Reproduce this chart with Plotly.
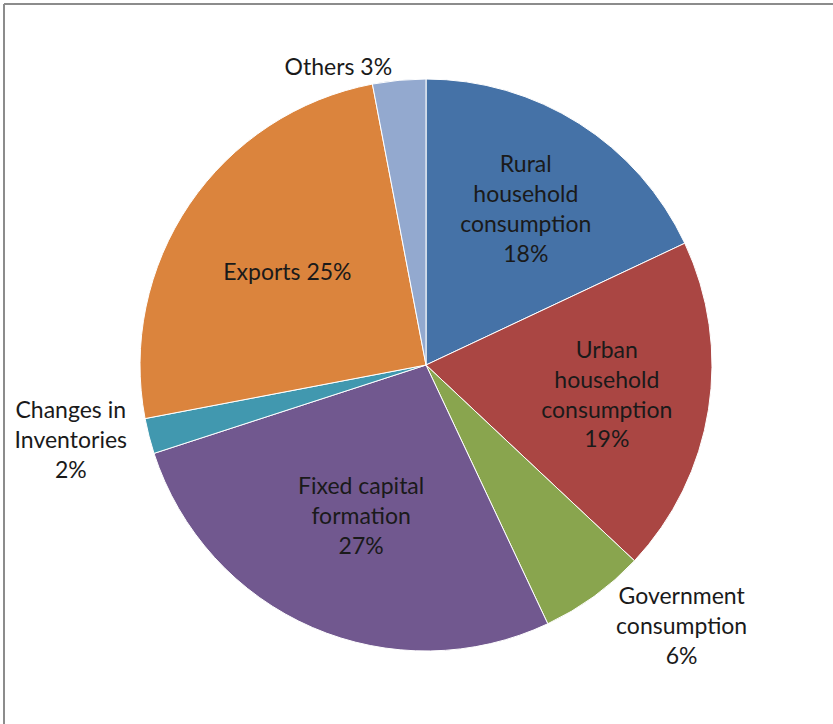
import plotly.graph_objects as go

# GDP expenditure components (share of total, %)
categories = [
    "Rural household consumption",
    "Urban household consumption",
    "Government consumption",
    "Fixed capital formation",
    "Changes in Inventories",
    "Exports",
    "Others",
]
shares = [18, 19, 6, 27, 2, 25, 3]
display_names = [
    "Rural<br>household<br>consumption",
    "Urban<br>household<br>consumption",
    "Government<br>consumption",
    "Fixed capital<br>formation",
    "Changes in<br>Inventories",
    "Exports",
    "Others",
]
label_templates = [
    "%{text}<br>%{value}%",
    "%{text}<br>%{value}%",
    "%{text}<br>%{value}%",
    "%{text}<br>%{value}%",
    "%{text}<br>%{value}%",
    "%{text} %{value}%",
    "%{text} %{value}%",
]
label_positions = ["inside", "inside", "outside", "inside", "outside", "inside", "outside"]
colors = ["#4572A7", "#AA4643", "#89A54E", "#71588F", "#4198AF", "#DB843D", "#93A9CF"]

W, H = 833, 724
cx, cy, r = 426, 365, 286

fig = go.Figure(
    go.Pie(
        labels=categories,
        values=shares,
        text=display_names,
        texttemplate=label_templates,
        textposition=label_positions,
        insidetextorientation="horizontal",
        sort=False,
        direction="clockwise",
        rotation=0,
        marker=dict(colors=colors, line=dict(color="white", width=1)),
        textfont=dict(family="Lato", size=23, color="#1a1a1a"),
        hoverinfo="label+percent",
        showlegend=False,
        domain=dict(
            x=[(cx - r) / W, (cx + r) / W],
            y=[1 - (cy + r) / H, 1 - (cy - r) / H],
        ),
    )
)

# Chart-area frame (top and left edges)
frame = dict(color="#8c8c8c", width=2)
fig.add_shape(type="line", xref="paper", yref="paper",
              x0=4 / W, x1=1.02, y0=1 - 4 / H, y1=1 - 4 / H, line=frame)
fig.add_shape(type="line", xref="paper", yref="paper",
              x0=4 / W, x1=4 / W, y0=-0.02, y1=1 - 4 / H, line=frame)

fig.update_layout(
    width=W,
    height=H,
    margin=dict(l=0, r=0, t=0, b=0),
    paper_bgcolor="white",
    plot_bgcolor="white",
)

fig.write_html("out.html")
